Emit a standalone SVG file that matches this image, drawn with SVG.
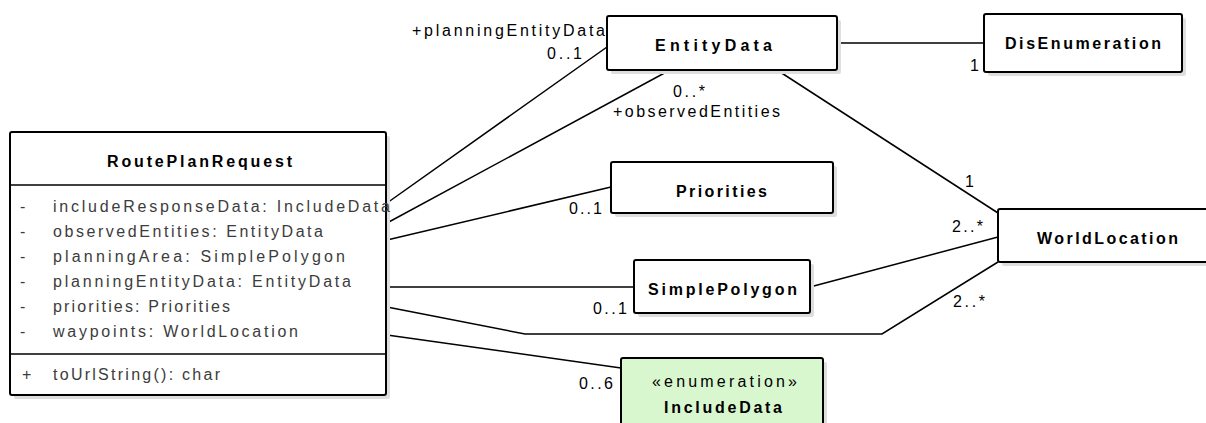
<svg xmlns="http://www.w3.org/2000/svg" width="1206" height="423" viewBox="0 0 1206 423">
<style>
.box{fill:#ffffff;stroke:#000;stroke-width:2}
.enum{fill:#d9f7cf;stroke:#000;stroke-width:2}
.shadow{fill:#dedede}
.sep{stroke:#000;stroke-width:1.5}
.title{font-family:"Liberation Sans",Arial,sans-serif;font-size:16px;font-weight:bold;fill:#000}
.attr{font-family:"Liberation Sans",Arial,sans-serif;font-size:16px;fill:#3c3c3c}
.lbl{font-family:"Liberation Sans",Arial,sans-serif;font-size:16px;fill:#000}
.conn{fill:none;stroke:#000;stroke-width:1.5}
</style>
<g id="connectors">
<line class="conn" x1="387" y1="203" x2="607" y2="47"/>
<line class="conn" x1="387" y1="223" x2="670" y2="70"/>
<line class="conn" x1="387" y1="240" x2="611" y2="187"/>
<line class="conn" x1="387" y1="287" x2="634" y2="287"/>
<polyline class="conn" points="387,307 525,334 882,334 998,262"/>
<line class="conn" x1="387" y1="335" x2="621" y2="368"/>
<line class="conn" x1="837" y1="43" x2="984" y2="43"/>
<line class="conn" x1="777" y1="70" x2="998" y2="213"/>
<line class="conn" x1="810" y1="287" x2="998" y2="237"/>
<text class="lbl" x="412" y="36" textLength="193" lengthAdjust="spacing">+planningEntityData</text>
<text class="lbl" x="547" y="59" textLength="35" lengthAdjust="spacing">0..1</text>
<text class="lbl" x="673" y="97" textLength="32" lengthAdjust="spacing">0..*</text>
<text class="lbl" x="613" y="117" textLength="167" lengthAdjust="spacing">+observedEntities</text>
<text class="lbl" x="569" y="214" textLength="33" lengthAdjust="spacing">0..1</text>
<text class="lbl" x="593" y="314" textLength="34" lengthAdjust="spacing">0..1</text>
<text class="lbl" x="579" y="389" textLength="34" lengthAdjust="spacing">0..6</text>
<text class="lbl" x="965" y="187">1</text>
<text class="lbl" x="952" y="232" textLength="31" lengthAdjust="spacing">2..*</text>
<text class="lbl" x="953" y="307" textLength="32" lengthAdjust="spacing">2..*</text>
<text class="lbl" x="970" y="71">1</text>
</g>
<g id="RoutePlanRequest">
<rect class="shadow" x="14" y="136" width="376" height="263" rx="2"/>
<rect class="box" x="10" y="132" width="376" height="263" rx="2"/>
<line class="sep" x1="10" y1="185" x2="386" y2="185"/>
<line class="sep" x1="10" y1="354" x2="386" y2="354"/>
<text class="title" x="107" y="167" textLength="185" lengthAdjust="spacing">RoutePlanRequest</text>
<text class="attr" x="20" y="212">-</text>
<text class="attr" x="53" y="212" textLength="337" lengthAdjust="spacing">includeResponseData: IncludeData</text>
<text class="attr" x="20" y="237">-</text>
<text class="attr" x="53" y="237" textLength="270" lengthAdjust="spacing">observedEntities: EntityData</text>
<text class="attr" x="20" y="262">-</text>
<text class="attr" x="53" y="262" textLength="292" lengthAdjust="spacing">planningArea: SimplePolygon</text>
<text class="attr" x="20" y="287">-</text>
<text class="attr" x="53" y="287" textLength="298" lengthAdjust="spacing">planningEntityData: EntityData</text>
<text class="attr" x="20" y="312">-</text>
<text class="attr" x="53" y="312" textLength="177" lengthAdjust="spacing">priorities: Priorities</text>
<text class="attr" x="20" y="337">-</text>
<text class="attr" x="53" y="337" textLength="245" lengthAdjust="spacing">waypoints: WorldLocation</text>
<text class="attr" x="22" y="380">+</text>
<text class="attr" x="53" y="380" textLength="167" lengthAdjust="spacing">toUrlString(): char</text>
</g>
<g id="EntityData">
<rect class="shadow" x="611" y="20" width="230" height="54" rx="2"/>
<rect class="box" x="607" y="16" width="230" height="54" rx="2"/>
<text class="title" x="655" y="51" textLength="117" lengthAdjust="spacing">EntityData</text>
</g>
<g id="DisEnumeration">
<rect class="shadow" x="988" y="18" width="198" height="58" rx="2"/>
<rect class="box" x="984" y="14" width="198" height="58" rx="2"/>
<text class="title" x="1005" y="49" textLength="156" lengthAdjust="spacing">DisEnumeration</text>
</g>
<g id="Priorities">
<rect class="shadow" x="615" y="166" width="222" height="51" rx="2"/>
<rect class="box" x="611" y="162" width="222" height="51" rx="2"/>
<text class="title" x="676" y="197" textLength="91" lengthAdjust="spacing">Priorities</text>
</g>
<g id="SimplePolygon">
<rect class="shadow" x="638" y="264" width="176" height="53" rx="2"/>
<rect class="box" x="634" y="260" width="176" height="53" rx="2"/>
<text class="title" x="648" y="295" textLength="149" lengthAdjust="spacing">SimplePolygon</text>
</g>
<g id="WorldLocation">
<rect class="shadow" x="1002" y="213" width="220" height="53" rx="2"/>
<rect class="box" x="998" y="209" width="220" height="53" rx="2"/>
<text class="title" x="1037" y="244" textLength="141" lengthAdjust="spacing">WorldLocation</text>
</g>
<g id="IncludeData">
<rect class="shadow" x="625" y="362" width="202" height="80" rx="2"/>
<rect class="enum" x="621" y="358" width="202" height="80" rx="2"/>
<text class="lbl" x="652" y="387" textLength="145" lengthAdjust="spacing">«enumeration»</text>
<text class="title" x="664" y="413" textLength="118" lengthAdjust="spacing">IncludeData</text>
</g>
</svg>
